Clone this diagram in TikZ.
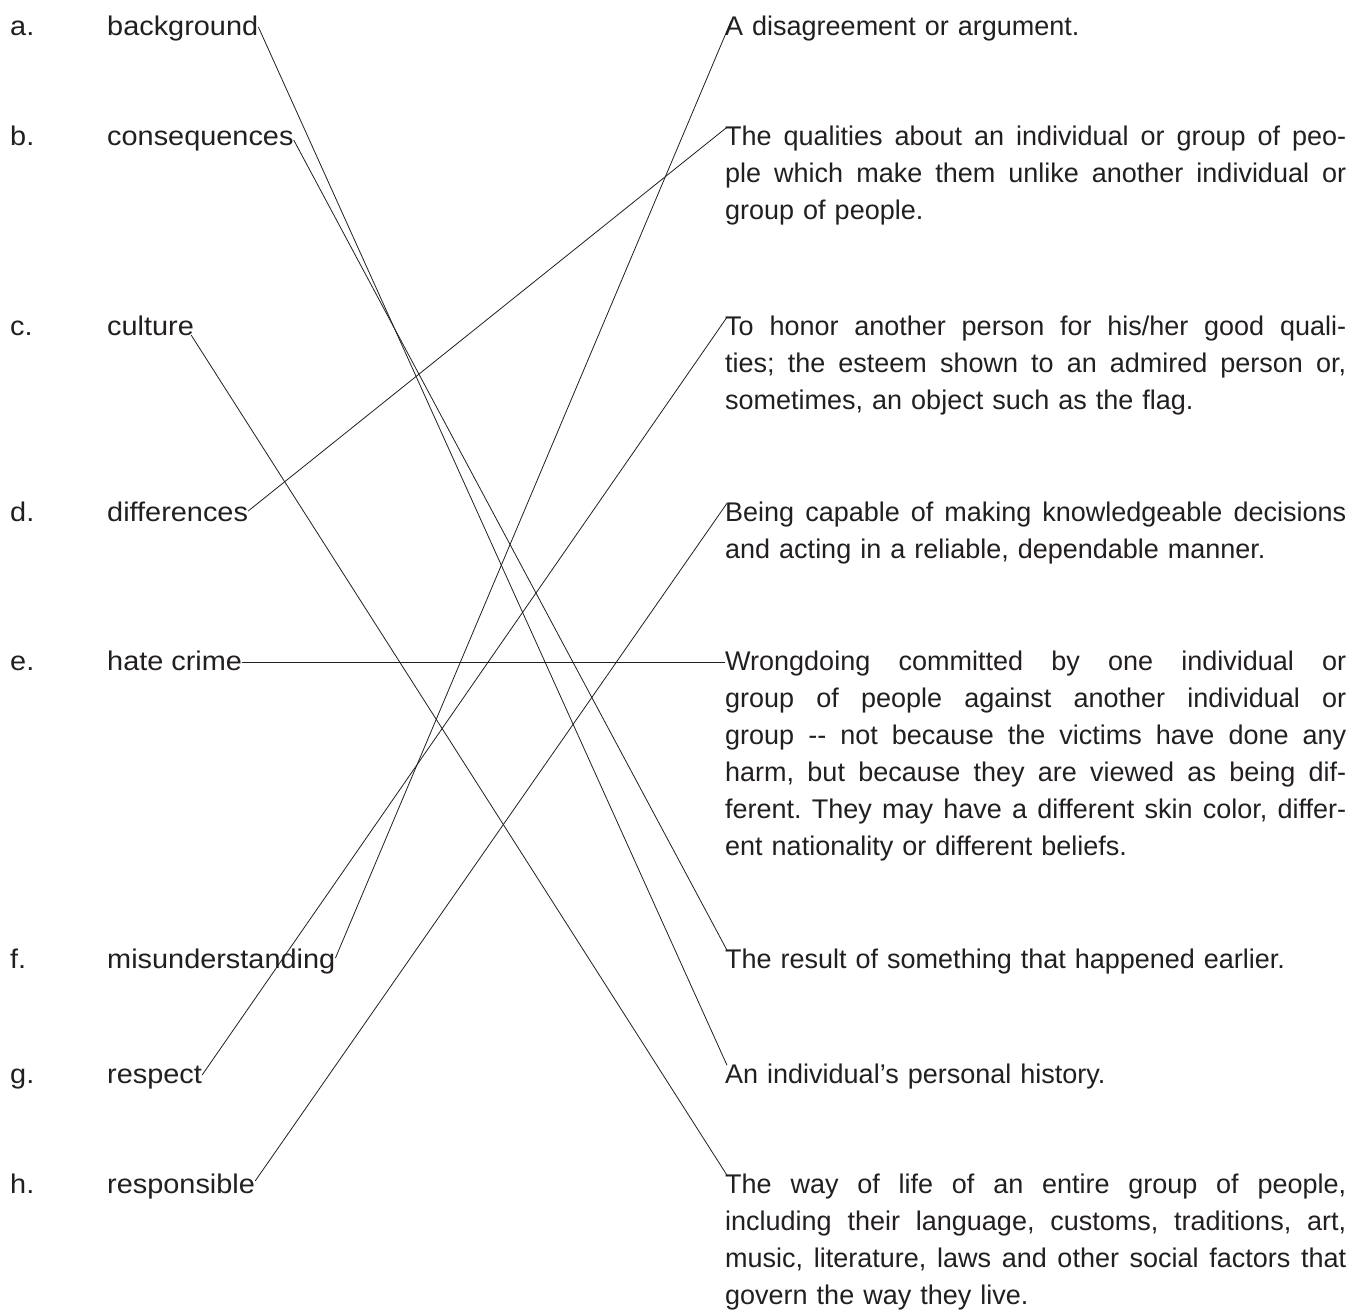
\documentclass[tikz,border=0pt]{standalone}
\usepackage{fontspec}
\setmainfont{Liberation Sans}
\newfontfamily\termfont[FakeStretch=1.07]{Liberation Sans}
\definecolor{ink}{HTML}{231F20}
\newcommand{\jl}[1]{{\spaceskip=\fontdimen2\font plus 1fil\relax\makebox[621pt][s]{#1}}}
\tikzset{
  lbl/.style={anchor=base west, inner sep=0pt, text=ink,
    font=\termfont\fontsize{27pt}{37pt}\selectfont},
  defn/.style={anchor=base west, inner sep=0pt, text=ink, text width=621pt,
    align=left, font=\fontsize{27pt}{37pt}\selectfont\frenchspacing},
  link/.style={draw=ink, line width=0.8pt},
}
\begin{document}
\begin{tikzpicture}[x=1pt,y=-1pt]
\useasboundingbox[fill=white] (0,0) rectangle (1366,1310);

% left column: letters
\node[lbl] (la) at (10,35)   {a.};
\node[lbl] (lb) at (10,145)  {b.};
\node[lbl] (lc) at (10,335)  {c.};
\node[lbl] (ld) at (10,521)  {d.};
\node[lbl] (le) at (10,670)  {e.};
\node[lbl] (lf) at (10,968)  {f.};
\node[lbl] (lg) at (10,1083) {g.};
\node[lbl] (lh) at (10,1193) {h.};

% left column: terms
\node[lbl] (ta) at (107,35)   {background};
\node[lbl] (tb) at (107,145)  {consequences};
\node[lbl] (tc) at (107,335)  {culture};
\node[lbl] (td) at (107,521)  {differences};
\node[lbl] (te) at (107,670)  {hate crime};
\node[lbl] (tf) at (107,968)  {misunderstanding};
\node[lbl] (tg) at (107,1083) {respect};
\node[lbl] (th) at (107,1193) {responsible};

% right column: definitions
\node[defn] (r1) at (725,35) {A disagreement or argument.};
\node[defn] (r2) at (725,145) {\jl{The qualities about an individual or group of peo-}\\
\jl{ple which make them unlike another individual or}\\
group of people.};
\node[defn] (r3) at (725,335) {\jl{To honor another person for his/her good quali-}\\
\jl{ties; the esteem shown to an admired person or,}\\
sometimes, an object such as the flag.};
\node[defn] (r4) at (725,521) {\jl{Being capable of making knowledgeable decisions}\\
and acting in a reliable, dependable manner.};
\node[defn] (r5) at (725,670) {\jl{Wrongdoing committed by one individual or}\\
\jl{group of people against another individual or}\\
\jl{group -{}- not because the victims have done any}\\
\jl{harm, but because they are viewed as being dif-}\\
\jl{ferent. They may have a different skin color, differ-}\\
ent nationality or different beliefs.};
\node[defn] (r6) at (725,968) {The result of something that happened earlier.};
\node[defn] (r7) at (725,1083) {An individual’s personal history.};
\node[defn] (r8) at (725,1193) {\jl{The way of life of an entire group of people,}\\
\jl{including their language, customs, traditions, art,}\\
\jl{music, literature, laws and other social factors that}\\
govern the way they live.};

% connectors
\draw[link] ([yshift=8pt]ta.base east)  -- ([xshift=2pt,yshift=-2pt]r7.north west);
\draw[link] ([yshift=5pt]tb.base east)  -- ([xshift=2pt,yshift=-2pt]r6.north west);
\draw[link] ([xshift=-3pt]tc.base east) -- ([xshift=2pt,yshift=-2pt]r8.north west);
\draw[link] ([yshift=10pt]td.base east) -- ([xshift=2pt,yshift=-2pt]r2.north west);
\draw[link] ([yshift=8pt]te.base east)  -- ([yshift=8pt]r5.base west);
\draw[link] ([yshift=10pt]tf.base east) -- ([xshift=6pt,yshift=-6pt]r1.north west);
\draw[link] ([yshift=8pt]tg.base east)  -- ([xshift=2pt,yshift=-2pt]r3.north west);
\draw[link] ([yshift=12pt]th.base east) -- ([xshift=2pt,yshift=-2pt]r4.north west);
\end{tikzpicture}
\end{document}
